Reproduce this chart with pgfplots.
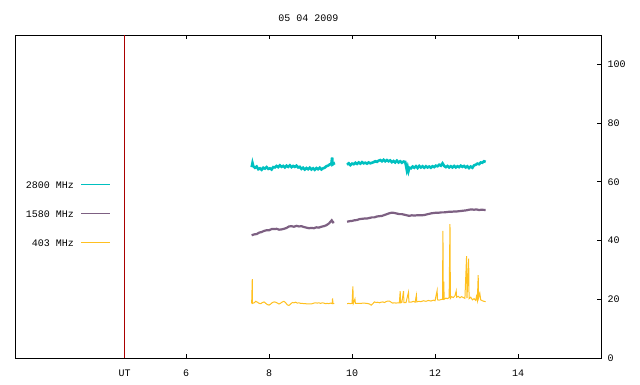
\documentclass[border=0pt]{standalone}
\usepackage{fontspec}
\setmonofont{Liberation Mono}
\usepackage{pgfplots}
\pgfplotsset{compat=1.18}
\definecolor{cA}{RGB}{0,192,192}
\definecolor{cB}{RGB}{125,96,130}
\definecolor{cC}{RGB}{255,192,32}
\definecolor{redline}{RGB}{170,0,0}
\begin{document}
\begin{tikzpicture}
\useasboundingbox (-16pt,-26pt) rectangle (624pt,358pt);
\begin{axis}[
  scale only axis, width=585pt, height=323pt,
  xmin=1.9, xmax=16, ymin=0, ymax=110,
  axis line style={line width=1pt, black},
  every tick/.style={line width=1pt, black},
  major tick length=4pt,
  tick align=inside,
  xtick={6,8,10,12,14},
  extra x ticks={4.52}, extra x tick labels={UT},
  extra x tick style={major tick length=0pt},
  xtick pos=both, xticklabel pos=bottom,
  ytick={0,20,40,60,80,100}, ytick pos=right, yticklabel pos=right,
  /pgf/number format/assume math mode=true,
  font=\fontsize{10}{12}\selectfont\ttfamily,
  tick label style={font=\fontsize{10}{12}\selectfont\ttfamily},
  xticklabel style={yshift=-8pt},
  yticklabel style={xshift=3pt},
  title={05 04 2009},
  title style={at={(0.5,1)}, anchor=center, yshift=11pt, font=\fontsize{10}{12}\selectfont\ttfamily},
  legend plot pos=right,
  legend cell align=right,
  legend style={at={(rel axis cs:0.1624,0.548)}, anchor=north east, draw=none, fill=none, inner sep=0pt,
    row sep=22pt, column sep=7pt,
    nodes={inner sep=0pt, text height=7pt, text depth=0pt, font=\fontsize{10}{12}\selectfont\ttfamily}},
  legend image code/.code={\draw[#1, line width=1pt] (0pt,0.5pt) -- (29pt,0.5pt);},
]
\addplot[draw=redline, color=redline, line width=0.8pt, forget plot] coordinates {(4.52,0) (4.52,110)};
% 2800 MHz
\addplot[cA, line width=2.6pt] coordinates {
(7.58,65.0)(7.60,66.4)(7.62,65.3)(7.66,64.8)(7.70,65.2)(7.74,64.3)(7.78,64.6)(7.82,64.1)(7.86,64.8)(7.90,64.5)
(7.94,65.0)(7.98,64.4)(8.02,64.6)(8.06,64.2)(8.10,65.0)(8.14,64.9)(8.18,65.4)(8.22,65.0)(8.26,65.6)(8.30,65.1)
(8.34,65.4)(8.38,64.9)(8.42,65.5)(8.46,65.1)(8.50,65.6)(8.54,65.0)(8.58,65.4)(8.62,65.1)(8.66,65.5)(8.70,64.9)
(8.74,65.1)(8.78,64.4)(8.82,64.8)(8.86,64.2)(8.90,64.7)(8.94,64.3)(8.98,64.8)(9.02,64.2)(9.06,64.6)(9.10,64.1)
(9.14,64.7)(9.18,64.3)(9.22,64.8)(9.26,64.2)(9.30,64.6)(9.34,64.8)(9.38,65.3)(9.42,65.5)(9.46,65.9)(9.50,66.0)
(9.52,68.3)(9.53,65.9)(9.56,66.2)(9.57,65.8)};
\addlegendentry{2800 MHz}
\addplot[cA, line width=2.6pt, forget plot] coordinates {
(9.88,65.8)(9.92,66.3)(9.96,65.7)(10.00,66.2)(10.04,66.0)(10.08,66.5)(10.12,66.1)(10.16,66.6)(10.20,66.2)(10.24,66.7)
(10.28,66.3)(10.32,66.5)(10.36,66.2)(10.40,66.6)(10.44,66.3)(10.48,66.5)(10.52,66.7)(10.56,67.0)(10.60,66.8)(10.64,67.2)
(10.68,67.4)(10.72,67.0)(10.76,67.5)(10.80,67.0)(10.84,67.4)(10.88,67.0)(10.92,67.3)(10.96,66.7)(11.00,67.1)(11.04,66.6)
(11.08,67.2)(11.12,66.6)(11.16,67.0)(11.20,66.5)(11.24,66.9)(11.28,66.8)(11.30,65.5)(11.32,64.0)(11.34,65.0)(11.36,63.7)
(11.38,64.8)(11.42,64.6)(11.46,65.2)(11.50,64.8)(11.54,65.3)(11.58,64.7)(11.62,65.4)(11.66,64.9)(11.70,65.3)(11.74,64.8)
(11.78,65.3)(11.82,64.9)(11.86,65.2)(11.90,64.8)(11.94,65.3)(11.98,65.0)(12.02,65.5)(12.06,65.3)(12.10,65.8)(12.14,65.5)
(12.18,66.3)(12.22,65.4)(12.26,65.0)(12.30,65.4)(12.34,64.9)(12.38,65.3)(12.42,64.9)(12.46,65.4)(12.50,64.9)(12.54,65.3)
(12.58,65.0)(12.62,65.5)(12.66,65.1)(12.70,65.4)(12.74,64.9)(12.78,65.3)(12.82,64.7)(12.86,65.2)(12.90,64.8)(12.94,65.6)
(12.98,65.8)(13.02,66.2)(13.06,66.0)(13.10,66.6)(13.14,66.5)(13.18,67.0)(13.22,66.8)};
% 1580 MHz
\addplot[cB, line width=2.2pt] coordinates {
(7.58,41.8)(7.64,42.1)(7.70,42.2)(7.76,42.7)(7.82,42.9)(7.88,43.3)(7.94,43.5)(8.00,43.5)(8.06,43.9)(8.12,43.9)
(8.18,44.0)(8.24,43.7)(8.30,43.8)(8.36,44.0)(8.42,44.3)(8.48,44.8)(8.54,44.9)(8.60,44.7)(8.66,45.0)(8.72,44.8)
(8.78,44.9)(8.84,44.6)(8.90,44.4)(8.96,44.2)(9.02,44.3)(9.08,44.2)(9.14,44.5)(9.20,44.4)(9.26,44.7)(9.32,44.9)
(9.38,45.2)(9.44,45.8)(9.48,46.4)(9.51,46.9)(9.54,46.2)(9.57,46.3)};
\addlegendentry{1580 MHz}
\addplot[cB, line width=2.2pt, forget plot] coordinates {
(9.88,46.4)(9.94,46.6)(10.00,46.7)(10.06,46.9)(10.12,47.0)(10.18,47.3)(10.24,47.4)(10.30,47.5)(10.36,47.5)(10.42,47.7)
(10.48,47.9)(10.54,47.9)(10.60,48.2)(10.66,48.3)(10.72,48.4)(10.78,48.7)(10.84,49.0)(10.90,49.3)(10.96,49.5)(11.02,49.4)
(11.08,49.2)(11.14,49.0)(11.20,49.0)(11.26,48.8)(11.32,48.6)(11.38,48.4)(11.44,48.6)(11.50,48.5)(11.56,48.6)(11.62,48.6)
(11.68,48.6)(11.74,48.7)(11.80,48.9)(11.86,49.1)(11.92,49.3)(11.98,49.4)(12.04,49.5)(12.10,49.5)(12.16,49.6)(12.22,49.6)
(12.28,49.7)(12.34,49.8)(12.40,49.8)(12.46,49.9)(12.52,49.9)(12.58,50.0)(12.64,50.1)(12.70,50.2)(12.76,50.3)(12.82,50.5)
(12.88,50.6)(12.94,50.5)(13.00,50.6)(13.06,50.4)(13.12,50.5)(13.22,50.4)};
% 403 MHz
\addplot[cC, line width=1pt] coordinates {
(7.58,18.6)(7.595,26.9)(7.60,18.6)(7.64,18.8)(7.68,19.3)(7.72,19.0)(7.76,18.6)(7.80,18.5)(7.84,18.9)(7.88,19.1)
(7.92,18.6)(7.96,18.2)(8.00,18.0)(8.04,18.4)(8.08,18.9)(8.12,19.1)(8.16,19.0)(8.20,18.7)(8.24,18.4)(8.28,18.7)
(8.32,19.1)(8.36,19.3)(8.40,18.8)(8.44,18.1)(8.48,17.9)(8.52,18.4)(8.56,18.9)(8.60,18.8)(8.64,19.0)(8.68,18.7)
(8.72,18.8)(8.76,18.6)(8.80,18.6)(8.84,18.5)(8.88,18.5)(8.92,18.4)(8.96,18.4)(9.00,18.4)(9.04,18.5)(9.08,18.7)
(9.12,18.8)(9.16,18.7)(9.20,18.8)(9.24,18.6)(9.28,18.8)(9.32,18.7)(9.36,18.5)(9.40,18.6)(9.44,18.5)(9.48,18.7)
(9.52,18.5)(9.53,20.3)(9.54,18.6)(9.57,18.5)};
\addlegendentry{403 MHz}
\addplot[cC, line width=1pt, forget plot] coordinates {
(9.88,18.5)(9.92,18.6)(9.96,18.5)(10.00,18.6)(10.02,24.4)(10.03,18.6)(10.07,20.1)(10.08,18.6)(10.12,18.6)(10.20,18.6)
(10.28,18.7)(10.36,18.6)(10.42,18.4)(10.46,18.0)(10.50,18.5)(10.54,19.1)(10.58,18.9)(10.62,19.0)(10.66,18.8)(10.70,19.0)
(10.74,19.1)(10.78,18.9)(10.82,19.2)(10.86,19.4)(10.90,19.4)(10.94,19.0)(10.98,18.7)(11.02,18.8)(11.06,18.7)(11.10,18.8)
(11.14,18.8)(11.16,22.8)(11.17,18.8)(11.20,18.9)(11.24,22.8)(11.25,18.9)(11.30,18.9)(11.36,22.4)(11.37,19.0)(11.42,19.0)
(11.48,19.3)(11.52,19.0)(11.55,21.4)(11.56,19.1)(11.60,19.3)(11.66,19.2)(11.72,19.5)(11.78,19.3)(11.84,19.6)(11.90,19.4)
(11.96,19.7)(12.00,19.5)(12.05,23.0)(12.06,19.8)(12.10,19.7)(12.14,19.9)(12.18,20.0)(12.19,43.3)(12.20,19.8)(12.21,26.0)
(12.22,20.0)(12.26,20.4)(12.30,20.2)(12.34,20.6)(12.36,45.6)(12.37,20.3)(12.40,20.9)(12.44,20.6)(12.48,21.2)(12.51,22.8)
(12.52,20.7)(12.56,21.0)(12.60,20.5)(12.64,20.9)(12.68,20.6)(12.72,20.3)(12.76,34.7)(12.77,20.4)(12.81,33.8)(12.82,20.2)
(12.86,20.7)(12.90,19.8)(12.94,20.2)(12.98,19.6)(13.00,21.0)(13.02,19.7)(13.04,28.2)(13.05,20.5)(13.08,22.0)(13.10,19.8)
(13.14,19.5)(13.18,19.3)(13.22,19.2)};
\end{axis}
\end{tikzpicture}
\end{document}
